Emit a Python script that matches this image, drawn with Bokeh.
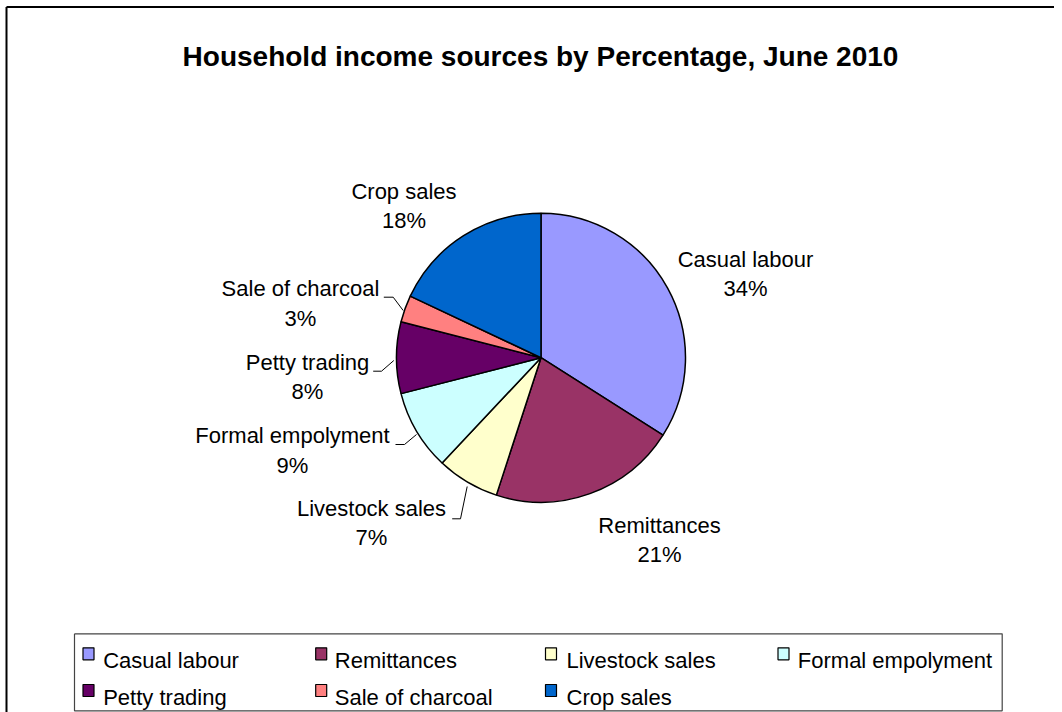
import numpy as np
from bokeh.plotting import figure
from bokeh.models import Range1d, ColumnDataSource
from bokeh.core.properties import value
from bokeh.embed import file_html
from bokeh.resources import INLINE

# ---- data ----
categories = ["Casual labour", "Remittances", "Livestock sales", "Formal empolyment",
              "Petty trading", "Sale of charcoal", "Crop sales"]
percentages = [34, 21, 7, 9, 8, 3, 18]
colors = ["#9999FF", "#993366", "#FFFFCC", "#CCFFFF", "#660066", "#FF8080", "#0066CC"]
title_text = "Household income sources by Percentage, June 2010"

# ---- layout (picture pixel coordinates; data y = H - picture y) ----
W, H = 1054, 712
FONT = "Liberation Sans"

def Y(iy):
    return H - iy

cx, cy, r = 540.5, Y(357.2), 144.5
# label anchors: (center x, baseline of name, baseline of percent)
label_pos = [(745, 259.3, 288.3), (659, 525, 554), (371, 508.3, 536.7),
             (292, 435, 465), (307, 362.3, 390.7), (300, 288.3, 318.3),
             (403.5, 190.7, 220)]
leaders = {2: [(451.7, 518.3), (460, 518.3), (466.7, 486)],
           3: [(395, 444), (404, 444), (416, 434)],
           4: [(372.7, 370.7), (381, 370.7), (393.3, 360)],
           5: [(383.3, 296.7), (392.7, 296.7), (402.7, 310)]}
leg_cols = [(88, 102.7), (320.7, 334.3), (550.5, 566), (783, 797.3)]
leg_rows = [(653.3, 660), (690, 696.7)]

p = figure(width=W, height=H, output_backend="svg", toolbar_location=None,
           x_range=Range1d(0, W), y_range=Range1d(0, H),
           x_axis_type=None, y_axis_type=None, min_border=0,
           outline_line_color=None, background_fill_color="white",
           border_fill_color="white")
p.xgrid.visible = False
p.ygrid.visible = False

# outer chart border (top and left visible in the window)
p.line([6, W + 5], [Y(6.5), Y(6.5)], line_color="black", line_width=2)
p.line([6, 6], [Y(6.5), Y(H + 5)], line_color="black", line_width=2)

# title
p.text(x=[540], y=[Y(56)], text=[title_text], text_font=value(FONT),
       text_font_size="28px", text_font_style="bold", text_align="center",
       text_baseline="alphabetic", text_color="black")

# pie wedges, clockwise from 12 o'clock
frac = np.array(percentages, dtype=float) / sum(percentages)
cum = np.concatenate([[0], np.cumsum(frac)])
start = np.pi / 2 - 2 * np.pi * cum[:-1]
end = np.pi / 2 - 2 * np.pi * cum[1:]
src = ColumnDataSource(dict(start=start, end=end, color=colors, cat=categories))
p.wedge(x=cx, y=cy, radius=r, start_angle="start", end_angle="end",
        direction="clock", fill_color="color", line_color="black",
        line_width=1.5, source=src)

# leader lines
for i, pts in leaders.items():
    p.line([a for a, b in pts], [Y(b) for a, b in pts], line_color="black", line_width=1)

# data labels
p.text(x=[lp[0] for lp in label_pos], y=[Y(lp[1]) for lp in label_pos],
       text=categories, text_font=value(FONT), text_font_size="22px",
       text_align="center", text_baseline="alphabetic", text_color="black")
p.text(x=[lp[0] for lp in label_pos], y=[Y(lp[2]) for lp in label_pos],
       text=[f"{v}%" for v in percentages], text_font=value(FONT),
       text_font_size="22px", text_align="center", text_baseline="alphabetic",
       text_color="black")

# legend box
lx0, lx1, ly0, ly1 = 74, 1001.7, 633.3, 710.3
p.line([lx0, lx1, lx1, lx0, lx0], [Y(ly0), Y(ly0), Y(ly1), Y(ly1), Y(ly0)],
       line_color="#444444", line_width=1.2)

sw_x, sw_y, tx, ty = [], [], [], []
for i in range(len(categories)):
    c, rr = i % 4, i // 4
    sw_x.append(leg_cols[c][0]); sw_y.append(Y(leg_rows[rr][0]))
    tx.append(leg_cols[c][1]); ty.append(Y(leg_rows[rr][1]))
p.rect(x=sw_x, y=sw_y, width=11, height=12, fill_color=colors,
       line_color="black", line_width=1.2)
p.text(x=tx, y=ty, text=categories, text_font=value(FONT), text_font_size="22px",
       text_align="left", text_baseline="alphabetic", text_color="black")

open("out.html", "w").write(file_html(p, INLINE))
